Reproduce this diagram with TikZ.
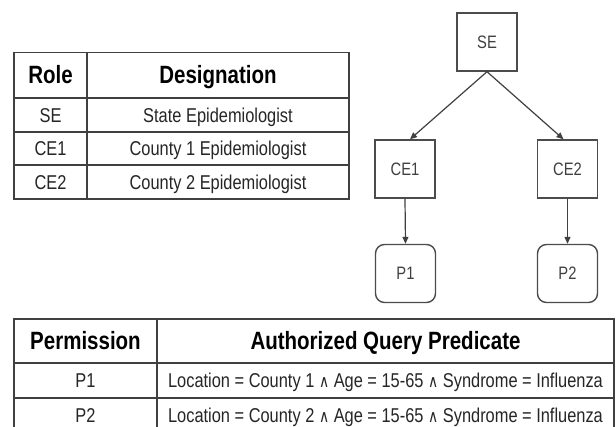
\documentclass[tikz,border=0pt]{standalone}
\usepackage{fontspec}
\setmainfont{Liberation Sans}[FakeStretch=0.82]
\newfontfamily\symf{DejaVu Sans}[FakeStretch=0.82]
\usetikzlibrary{arrows.meta}
\begin{document}
\begin{tikzpicture}[x=1pt,y=-1pt,
  grid/.style={line width=1.8pt, draw=black!75},
  hd/.style={font=\fontsize{25}{28}\selectfont\bfseries, text=black, inner sep=0pt, text height=18pt, text depth=0pt},
  bd/.style={font=\fontsize{20}{24}\selectfont, text=black!85, inner sep=0pt, text height=14.3pt, text depth=0pt},
  tbox/.style={draw=black!70, line width=1.4pt, minimum width=60pt, minimum height=58pt, font=\fontsize{18}{20}\selectfont, text=black!75, inner sep=0pt},
  pbox/.style={tbox, rounded corners=9pt},
  arr/.style={line width=1.2pt, draw=black!75, -{Triangle[length=7pt,width=6pt]}}]
\useasboundingbox (0,0) rectangle (616,427);
\clip (0,0) rectangle (616,427);
\fill[white] (0,0) rectangle (616,427);
% top table
\draw[grid] (14,52.5) rectangle (349,199);
\draw[grid] (14,98) -- (349,98) (14,132) -- (349,132) (14,165) -- (349,165) (87,52.5) -- (87,199);
\node[hd] (rolehd) at (50.5,75) {Role};
\node[hd] (deshd) at (218,75) {Designation};
\node[bd] (r1) at (50.5,115) {SE};
\node[bd] (d1) at (218,115) {State Epidemiologist};
\node[bd] (r2) at (50.5,148.5) {CE1};
\node[bd] (d2) at (218,148.5) {County 1 Epidemiologist};
\node[bd] (r3) at (50.5,182) {CE2};
\node[bd] (d3) at (218,182) {County 2 Epidemiologist};
% tree
\node[tbox] (SE) at (487,42) {SE};
\node[tbox] (CE1) at (405,169) {CE1};
\node[tbox] (CE2) at (567.5,169) {CE2};
\node[pbox] (P1) at (405.5,273.5) {P1};
\node[pbox] (P2) at (567.5,273.5) {P2};
\draw[arr] (SE.south) -- ([xshift=5pt]CE1.north);
\draw[arr] (SE.south) -- ([xshift=-4pt]CE2.north);
\draw[arr] (CE1.south) -- (P1.north);
\draw[arr] (CE2.south) -- (P2.north);
% bottom table
\draw[grid] (14,440) -- (14,319) -- (614,319) -- (614,440);
\draw[grid] (14,363) -- (614,363) (14,398) -- (614,398) (14,433) -- (614,433) (157,319) -- (157,440);
\node[hd] (permhd) at (85.5,341) {Permission};
\node[hd] (predhd) at (385.5,341) {Authorized Query Predicate};
\node[bd] (p1) at (85.5,380.5) {P1};
\node[bd] (q1) at (385.5,380.5) {Location = County 1 {\symf\fontsize{17}{18}\selectfont ∧} Age = 15-65 {\symf\fontsize{17}{18}\selectfont ∧} Syndrome = Influenza};
\node[bd] (p2) at (85.5,415.5) {P2};
\node[bd] (q2) at (385.5,415.5) {Location = County 2 {\symf\fontsize{17}{18}\selectfont ∧} Age = 15-65 {\symf\fontsize{17}{18}\selectfont ∧} Syndrome = Influenza};
\end{tikzpicture}
\end{document}
